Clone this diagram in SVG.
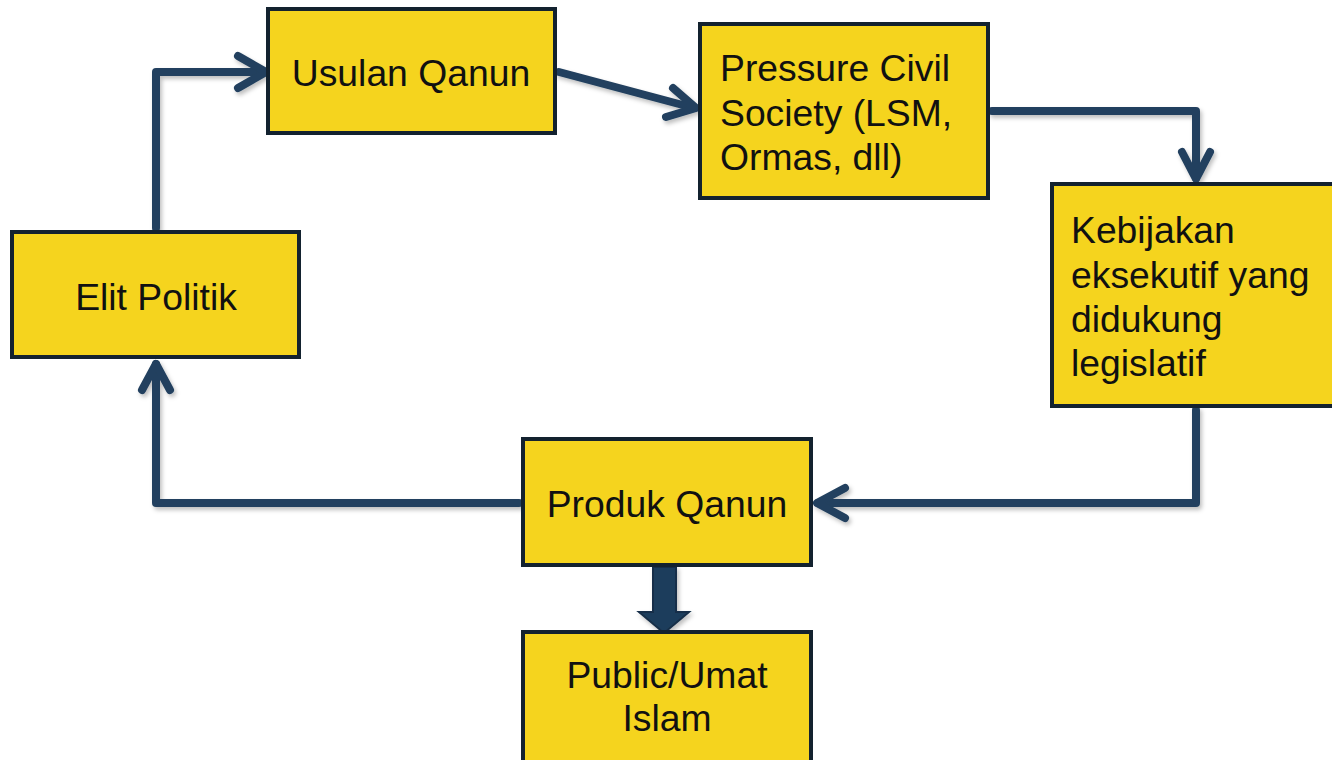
<svg xmlns="http://www.w3.org/2000/svg" width="1332" height="760" viewBox="0 0 1332 760">
<style>
.box{fill:#F5D41E;stroke:#13222F;stroke-width:4}
.t{font-family:"Liberation Sans",Arial,sans-serif;font-size:37.3px;fill:#111111}
.c{text-anchor:middle}
.ln{fill:none;stroke:#22405E;stroke-width:8;stroke-linejoin:round;stroke-linecap:round}
</style>
<defs>
<filter id="sh" x="-10%" y="-10%" width="130%" height="130%">
<feDropShadow dx="2" dy="3" stdDeviation="2" flood-color="#000" flood-opacity="0.25"/>
</filter>
</defs>
<rect width="1332" height="760" fill="#ffffff"/>
<g id="connectors" filter="url(#sh)">
<path class="ln" d="M156,228 V72 H262"/>
<path class="ln" d="M238,56 L266,72 L238,88"/>
<path class="ln" d="M559,72 L694,108"/>
<path class="ln" d="M673,88 L696,108 L666,117"/>
<path class="ln" d="M992,111 H1196 V178"/>
<path class="ln" d="M1182,152 L1196,179 L1210,152"/>
<path class="ln" d="M1196,410 V503 H818"/>
<path class="ln" d="M845,488 L817,503 L845,518"/>
<path class="ln" d="M519,503 H156 V364"/>
<path class="ln" d="M142,390 L156,364 L170,390"/>
<path d="M653,567 V612 H639 L664,633 L689,612 H676 V567 Z" fill="#1F3E5C" stroke="#172F48" stroke-width="2"/>
</g>
<g id="usulan">
<rect class="box" x="268" y="9" width="287" height="124"/>
<text class="t c" x="411" y="86">Usulan Qanun</text>
</g>
<g id="pressure">
<rect class="box" x="700" y="24" width="288" height="174"/>
<text class="t" x="720" y="81">Pressure Civil</text>
<text class="t" x="720" y="126">Society (LSM,</text>
<text class="t" x="720" y="170">Ormas, dll)</text>
</g>
<g id="kebijakan">
<rect class="box" x="1052" y="184" width="290" height="222"/>
<text class="t" x="1071" y="243">Kebijakan</text>
<text class="t" x="1071" y="288">eksekutif yang</text>
<text class="t" x="1071" y="332">didukung</text>
<text class="t" x="1071" y="376">legislatif</text>
</g>
<g id="elit">
<rect class="box" x="12" y="232" width="287" height="125"/>
<text class="t c" x="156" y="310">Elit Politik</text>
</g>
<g id="produk">
<rect class="box" x="523" y="439" width="288" height="126"/>
<text class="t c" x="667" y="517">Produk Qanun</text>
</g>
<g id="public">
<rect class="box" x="523" y="632" width="288" height="140"/>
<text class="t c" x="667" y="688">Public/Umat</text>
<text class="t c" x="667" y="731">Islam</text>
</g>
</svg>
